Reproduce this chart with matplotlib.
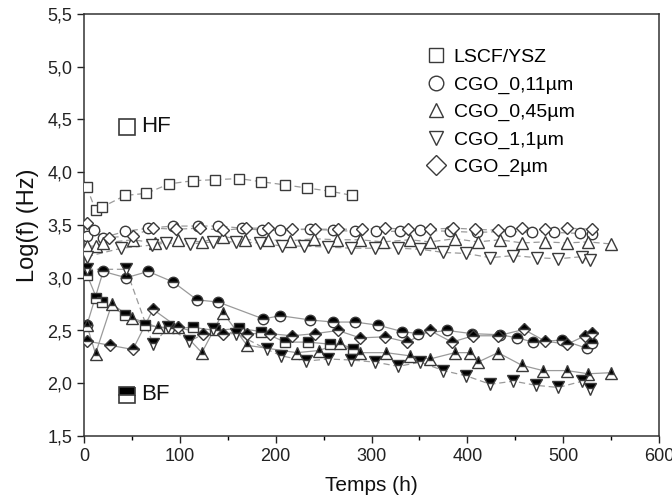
import matplotlib
matplotlib.use("Agg")
import matplotlib.pyplot as plt
from matplotlib.lines import Line2D
from matplotlib.ticker import MultipleLocator, FuncFormatter

plt.rcParams['font.family'] = ['Liberation Sans', 'DejaVu Sans']

# ---------------- data ----------------
# HF (open markers)
t_hf_lscf = [3, 12, 19, 43, 65, 89, 114, 137, 162, 185, 210, 233, 257, 280]
v_hf_lscf = [3.86, 3.64, 3.67, 3.78, 3.80, 3.89, 3.92, 3.93, 3.94, 3.91, 3.88, 3.85, 3.82, 3.78]

t_hf_011 = [3, 10, 20, 43, 67, 93, 119, 140, 165, 186, 204, 236, 260, 283, 305, 330, 351, 382, 410, 445, 467, 490, 518, 530]
v_hf_011 = [3.40, 3.45, 3.38, 3.44, 3.47, 3.49, 3.49, 3.49, 3.47, 3.45, 3.45, 3.46, 3.45, 3.44, 3.44, 3.44, 3.45, 3.44, 3.43, 3.44, 3.43, 3.43, 3.42, 3.41]

t_hf_045 = [3, 12, 20, 51, 74, 98, 123, 145, 168, 192, 215, 240, 264, 288, 312, 340, 361, 387, 411, 434, 457, 481, 504, 526, 550]
v_hf_045 = [3.30, 3.30, 3.33, 3.36, 3.33, 3.36, 3.34, 3.39, 3.36, 3.36, 3.35, 3.37, 3.36, 3.36, 3.34, 3.36, 3.34, 3.37, 3.34, 3.36, 3.33, 3.34, 3.33, 3.34, 3.32]

t_hf_11 = [3, 39, 71, 86, 111, 135, 159, 184, 207, 230, 255, 279, 304, 328, 351, 375, 399, 424, 448, 473, 495, 520, 528]
v_hf_11 = [3.20, 3.28, 3.31, 3.33, 3.32, 3.34, 3.34, 3.33, 3.30, 3.30, 3.29, 3.28, 3.28, 3.28, 3.27, 3.24, 3.23, 3.19, 3.21, 3.19, 3.18, 3.20, 3.17]

t_hf_2 = [3, 26, 51, 72, 96, 121, 145, 169, 192, 217, 241, 265, 290, 314, 338, 361, 385, 408, 432, 457, 481, 504, 530]
v_hf_2 = [3.52, 3.38, 3.40, 3.47, 3.46, 3.47, 3.45, 3.47, 3.47, 3.46, 3.46, 3.46, 3.46, 3.47, 3.46, 3.46, 3.47, 3.46, 3.45, 3.47, 3.46, 3.47, 3.46]

# BF (half-filled markers)
t_bf_lscf = [3, 13, 19, 43, 64, 89, 114, 137, 162, 185, 210, 234, 257, 281]
v_bf_lscf = [3.03, 2.81, 2.77, 2.65, 2.55, 2.52, 2.53, 2.50, 2.52, 2.49, 2.39, 2.39, 2.37, 2.32]

t_bf_011 = [3, 20, 44, 67, 93, 118, 140, 187, 205, 236, 260, 283, 307, 332, 349, 379, 405, 434, 452, 469, 499, 525, 530]
v_bf_011 = [2.55, 3.06, 3.00, 3.06, 2.96, 2.79, 2.77, 2.61, 2.64, 2.60, 2.58, 2.58, 2.55, 2.49, 2.47, 2.50, 2.47, 2.46, 2.43, 2.39, 2.41, 2.33, 2.38]

t_bf_045 = [3, 12, 29, 50, 77, 98, 123, 145, 170, 222, 245, 267, 288, 315, 340, 361, 387, 403, 411, 432, 457, 479, 504, 526, 550]
v_bf_045 = [2.55, 2.28, 2.75, 2.62, 2.53, 2.53, 2.29, 2.67, 2.36, 2.29, 2.31, 2.38, 2.29, 2.29, 2.26, 2.23, 2.29, 2.29, 2.20, 2.29, 2.17, 2.12, 2.12, 2.09, 2.10]

t_bf_11 = [3, 44, 72, 88, 110, 135, 159, 191, 206, 232, 255, 279, 304, 328, 351, 375, 399, 424, 448, 472, 495, 520, 528]
v_bf_11 = [3.08, 3.08, 2.37, 2.53, 2.40, 2.51, 2.47, 2.32, 2.26, 2.21, 2.23, 2.22, 2.20, 2.16, 2.20, 2.12, 2.07, 1.99, 2.02, 1.98, 1.96, 2.02, 1.95]

t_bf_2 = [3, 27, 51, 72, 98, 124, 145, 170, 194, 217, 241, 265, 288, 314, 337, 361, 384, 406, 432, 459, 481, 504, 523, 530]
v_bf_2 = [2.40, 2.36, 2.32, 2.70, 2.53, 2.47, 2.47, 2.47, 2.47, 2.45, 2.47, 2.50, 2.43, 2.44, 2.39, 2.50, 2.39, 2.45, 2.45, 2.51, 2.40, 2.37, 2.45, 2.48]

labels = ['LSCF/YSZ', 'CGO_0,11µm', 'CGO_0,45µm', 'CGO_1,1µm', 'CGO_2µm']
markers = ['s', 'o', '^', 'v', 'D']
msizes = [6.5, 7.5, 8, 8, 6.5]

hf_series = [(t_hf_lscf, v_hf_lscf), (t_hf_011, v_hf_011), (t_hf_045, v_hf_045),
             (t_hf_11, v_hf_11), (t_hf_2, v_hf_2)]
bf_series = [(t_bf_lscf, v_bf_lscf), (t_bf_011, v_bf_011), (t_bf_045, v_bf_045),
             (t_bf_11, v_bf_11), (t_bf_2, v_bf_2)]
bf_ls = ['-', '-', '-', '--', '-']

# ---------------- figure ----------------
fig = plt.figure(figsize=(6.72, 5.03), dpi=100)
ax = fig.add_axes([84/672, (503-436)/503, 575/672, 422/503])

edge = '#3a3a3a'
linec = '#9a9a9a'

for (t, v), m, ms in zip(hf_series, markers, msizes):
    ax.plot(t, v, ls='--', lw=0.9, color=linec, dashes=(5, 3), zorder=2)
    ax.plot(t, v, ls='none', marker=m, ms=ms, mfc='white', mec=edge, mew=1.0, zorder=3)

for (t, v), m, ms, ls in zip(bf_series, markers, msizes, bf_ls):
    if ls == '--':
        ax.plot(t, v, ls='--', lw=0.9, color=linec, dashes=(5, 3), zorder=2)
    else:
        ax.plot(t, v, ls='-', lw=0.9, color=linec, zorder=2)
    ax.plot(t, v, ls='none', marker=m, ms=ms, fillstyle='top', mfc='black',
            mfcalt='white', mec=edge, mew=1.0, zorder=3)

# HF / BF annotations
ax.plot([45], [4.43], marker='s', ms=11, mfc='white', mec=edge, mew=1.2, ls='none')
ax.text(60, 4.43, 'HF', fontsize=16, va='center', ha='left', color='#111111')
ax.plot([45], [1.89], marker='s', ms=11, fillstyle='top', mfc='black', mfcalt='white',
        mec=edge, mew=1.2, ls='none')
ax.text(60, 1.89, 'BF', fontsize=16, va='center', ha='left', color='#111111')

# legend
handles = [Line2D([], [], ls='none', marker=m, ms=10.5, mfc='white', mec=edge, mew=1.0)
           for m in markers]
leg = ax.legend(handles, labels, loc='upper left', bbox_to_anchor=(0.597, 0.918),
                frameon=False, fontsize=14, handlelength=0.9, handletextpad=0.45,
                labelspacing=0.5, borderpad=0, borderaxespad=0)

ax.set_xlim(0, 600)
ax.set_ylim(1.5, 5.5)
ax.xaxis.set_major_locator(MultipleLocator(100))
ax.xaxis.set_minor_locator(MultipleLocator(50))
ax.yaxis.set_major_locator(MultipleLocator(0.5))
ax.yaxis.set_major_formatter(FuncFormatter(lambda v, p: f"{v:.1f}".replace('.', ',')))
ax.tick_params(axis='both', which='major', direction='out', length=5, width=1,
               labelsize=13, colors='#222222', top=False, right=False)
ax.tick_params(axis='both', which='minor', direction='out', length=3, width=1,
               top=False, right=False)
ax.tick_params(axis='y', which='minor', left=False)
for s in ax.spines.values():
    s.set_color('#333333')
    s.set_linewidth(1.1)

ax.set_xlabel('Temps (h)', fontsize=15, color='#111111', labelpad=8)
ax.set_ylabel('Log(f) (Hz)', fontsize=17, color='#111111', labelpad=6)

fig.savefig('out.png', dpi=100)
